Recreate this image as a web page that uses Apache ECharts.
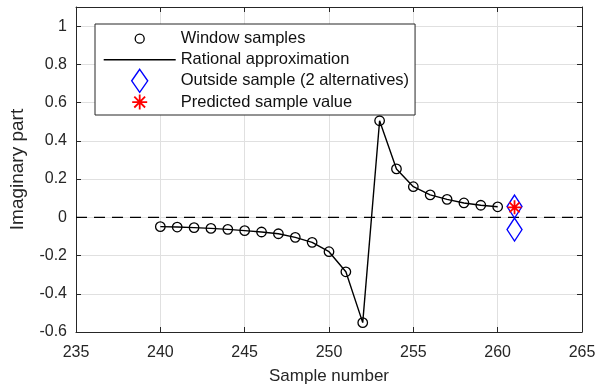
<!DOCTYPE html>
<html>
<head>
<meta charset="utf-8">
<script src="https://cdn.jsdelivr.net/npm/echarts@6/dist/echarts.min.js"></script>
<style>
html,body{margin:0;padding:0;background:#fff;}
#chart{width:600px;height:391px;}
</style>
</head>
<body>
<div id="chart"></div>
<script>
// ---- data ----
const windowX = [240,241,242,243,244,245,246,247,248,249,250,251,252,253,254,255,256,257,258,259,260];
const windowY = [-0.049,-0.051,-0.054,-0.058,-0.063,-0.070,-0.077,-0.086,-0.105,-0.131,-0.180,-0.285,-0.551,0.505,0.253,0.160,0.117,0.094,0.075,0.063,0.055];
const outsideX = [261, 261];
const outsideY = [0.056, -0.064];
const predictedX = [261];
const predictedY = [0.052];
const zeroLineX = [235, 265];
const zeroLineY = [0, 0];
const xTicks = [235,240,245,250,255,260,265];
const yTicks = [-0.6,-0.4,-0.2,0,0.2,0.4,0.6,0.8,1];
const seriesNames = ['Window samples','Rational approximation','Outside sample (2 alternatives)','Predicted sample value'];

const pairs = (xs, ys) => xs.map((x, i) => [x, ys[i]]);

const FONT = "'Liberation Sans', Arial, Helvetica, sans-serif";
const AX = '#262626';
const GRIDC = '#e0e0e0';

const diamondPath = 'path://M0,-1 L1,0 L0,1 L-1,0 Z';
const starPath = 'path://M0,-1 L0,1 M-1,0 L1,0 M-0.72,-0.72 L0.72,0.72 M-0.72,0.72 L0.72,-0.72';

// legend icons (padded with move-to points so they keep their natural size)
const legCircle = 'path://M0,-12 M0,12 M-4.5,0 A4.5,4.5 0 1,1 4.5,0 A4.5,4.5 0 1,1 -4.5,0 Z';
const legLine = 'path://M-36,-12 M-36,12 M-36,0 L36,0';
const legDiamond = 'path://M0,-12 M0,12 M0,-11.5 L8,0 L0,11.5 L-8,0 Z';
const legStar = 'path://M0,-12 M0,12 M0,-7.5 L0,7.5 M-7.5,0 L7.5,0 M-5.4,-5.4 L5.4,5.4 M-5.4,5.4 L5.4,-5.4';

const chart = echarts.init(document.getElementById('chart'), null, {renderer: 'canvas'});

const xBase = {
  type: 'value', min: 235, max: 265, interval: 5,
  axisLine: {show: true, onZero: false, lineStyle: {color: AX, width: 1}},
  axisTick: {show: true, inside: true, length: 5, lineStyle: {color: AX}},
  splitLine: {show: false}
};
const yBase = {
  type: 'value', min: -0.6, max: 1.1, interval: 0.2,
  axisLine: {show: true, onZero: false, lineStyle: {color: AX, width: 1}},
  axisTick: {show: true, inside: true, length: 5, lineStyle: {color: AX}},
  splitLine: {show: false}
};

const option = {
  animation: false,
  backgroundColor: '#fff',
  textStyle: {fontFamily: FONT},
  grid: {left: 76, right: 18, top: 7, bottom: 59, containLabel: false, outerBoundsMode: 'none'},
  xAxis: [
    Object.assign({}, xBase, {
      position: 'bottom',
      name: 'Sample number', nameLocation: 'middle', nameGap: 36,
      nameTextStyle: {color: AX, fontSize: 17, fontFamily: FONT},
      splitLine: {show: true, lineStyle: {color: GRIDC, width: 1}},
      axisTick: {show: true, inside: true, length: 5, lineStyle: {color: AX}, customValues: xTicks},
      axisLabel: {color: AX, fontSize: 16, fontFamily: FONT, margin: 13, customValues: xTicks,
                  formatter: v => String(v)}
    }),
    Object.assign({}, xBase, {position: 'top', axisLabel: {show: false}})
  ],
  yAxis: [
    Object.assign({}, yBase, {
      position: 'left',
      name: 'Imaginary part', nameLocation: 'middle', nameGap: 49,
      nameTextStyle: {color: AX, fontSize: 19, fontFamily: FONT},
      splitLine: {show: true, lineStyle: {color: GRIDC, width: 1}},
      axisTick: {show: true, inside: true, length: 5, lineStyle: {color: AX}, customValues: yTicks},
      axisLabel: {color: AX, fontSize: 16, fontFamily: FONT, margin: 9, customValues: yTicks,
                  formatter: v => String(Math.round(v * 10) / 10)}
    }),
    Object.assign({}, yBase, {position: 'right', axisLabel: {show: false}})
  ],
  legend: {
    show: true,
    orient: 'vertical',
    left: 95, top: 24,
    selectedMode: false,
    backgroundColor: '#fff',
    borderColor: AX, borderWidth: 1,
    padding: [2, 6, 0, 8],
    itemWidth: 72, itemHeight: 24, itemGap: -4.3,
    textStyle: {color: '#111', fontSize: 16.5, fontFamily: FONT, padding: [0, 0, 0, 0]},
    data: [
      {name: seriesNames[0], icon: legCircle, itemStyle: {color: 'rgba(0,0,0,0)', borderColor: '#000', borderWidth: 1.3}},
      {name: seriesNames[1], icon: legLine, itemStyle: {color: 'rgba(0,0,0,0)', borderColor: '#000', borderWidth: 1.4}},
      {name: seriesNames[2], icon: legDiamond, itemStyle: {color: 'rgba(0,0,0,0)', borderColor: '#0000ff', borderWidth: 1.4}},
      {name: seriesNames[3], icon: legStar, itemStyle: {color: 'rgba(0,0,0,0)', borderColor: '#ff0000', borderWidth: 1.8}}
    ]
  },
  series: [
    {
      name: 'zero', type: 'line', data: pairs(zeroLineX, zeroLineY),
      symbol: 'none', silent: true, z: 1,
      lineStyle: {color: '#000', width: 1.2, type: [11, 7]}
    },
    {
      name: seriesNames[1], type: 'line', data: pairs(windowX, windowY),
      symbol: 'none', z: 2,
      lineStyle: {color: '#000', width: 1.4}
    },
    {
      name: seriesNames[0], type: 'scatter', data: pairs(windowX, windowY),
      symbol: 'circle', symbolSize: 9.5, z: 3,
      itemStyle: {color: 'rgba(0,0,0,0)', borderColor: '#000', borderWidth: 1.3, opacity: 1}
    },
    {
      name: seriesNames[2], type: 'scatter', data: pairs(outsideX, outsideY),
      symbol: diamondPath, symbolSize: [15, 23], z: 4,
      itemStyle: {color: 'rgba(0,0,0,0)', borderColor: '#0000ff', borderWidth: 1.4, opacity: 1}
    },
    {
      name: seriesNames[3], type: 'scatter', data: pairs(predictedX, predictedY),
      symbol: starPath, symbolSize: 14, z: 5,
      itemStyle: {color: 'rgba(0,0,0,0)', borderColor: '#ff0000', borderWidth: 1.8, opacity: 1}
    }
  ]
};
chart.setOption(option);
</script>
</body>
</html>
